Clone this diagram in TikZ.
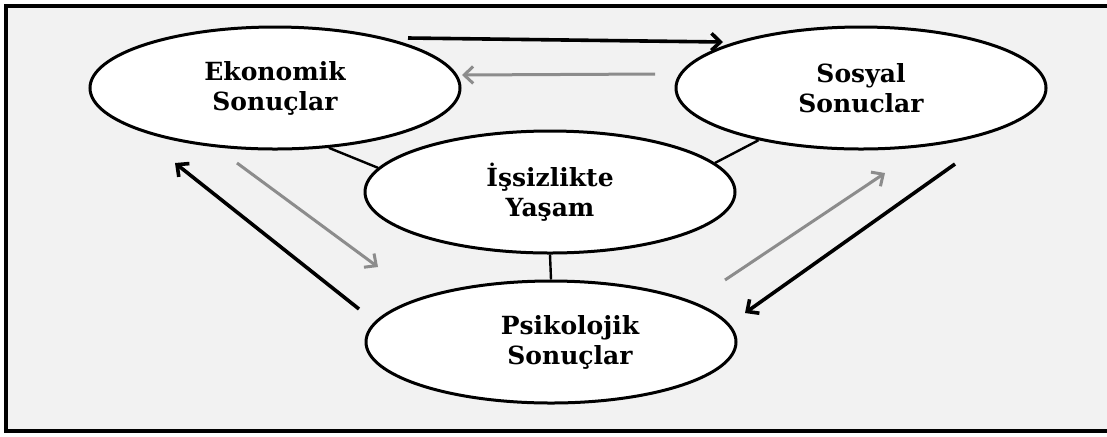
\documentclass[tikz,border=0pt]{standalone}
\usepackage{fontspec}
\setmainfont{DejaVu Serif}
\usetikzlibrary{shapes.geometric, arrows.meta}
\definecolor{panel}{HTML}{F2F2F2}
\definecolor{soft}{HTML}{8C8C8C}
\tikzset{
    normal/.style={draw, line width=1.5pt},
    n/.style={style=normal, ellipse, fill=white, minimum width=185pt, minimum height=61pt, align=center, font=\bfseries\fontsize{12.5}{15}\selectfont}, % the four ellipses
    te/.style={draw, line width=1.2pt}, % short lines to the centre
    be/.style={draw, line width=1.8pt, ->}, % black arrow
    ge/.style={draw=soft, line width=1.5pt, ->} % grey arrow
}

\begin{document}
\begin{tikzpicture}[x=0.5pt, y=-0.5pt, >={Straight Barb[length=4.5pt,width=8.5pt]}]
        \useasboundingbox (0,0) rectangle (1107,436);
        \fill[white] (0,0) rectangle (1107,436);
        \draw[fill=panel, line width=1.6pt] (6,6) rectangle (1130,431);

        \node[n] (NW) at (275,88)
        {Ekonomik\\Sonuçlar};
        \node[n] (NE) at (861,88)
        {Sosyal\\Sonuclar};
        \node[n] (C) at (550,192)
        {İşsizlikte\\Yaşam};
        \node[n] (S) at (551,342)
        {\hspace*{19pt}Psikolojik\\\hspace*{19pt}Sonuçlar};

        \draw[te] (NW.-48) -- (C.172);
        \draw[te] (C.10) -- (NE.207);
        \draw[te] (C.south) -- (S.north);

        \coordinate (NWa) at (408,38);
        \coordinate (NEa) at (723,42);
        \coordinate (NEb) at (655,74);
        \coordinate (NWb) at (462,75);
        \coordinate (Sa) at (359,309);
        \coordinate (NWc) at (175,163);
        \coordinate (NWd) at (237,163);
        \coordinate (Sb) at (378,267);
        \coordinate (Sc) at (725,280);
        \coordinate (NEc) at (885,173);
        \coordinate (NEd) at (955,164);
        \coordinate (Sd) at (745,313);

        \draw[be] (NWa) -- (NEa);
        \draw[ge] (NEb) -- (NWb);
        \draw[be] (Sa) -- (NWc);
        \draw[ge] (NWd) -- (Sb);
        \draw[ge] (Sc) -- (NEc);
        \draw[be] (NEd) -- (Sd);
      \end{tikzpicture}
\end{document}
